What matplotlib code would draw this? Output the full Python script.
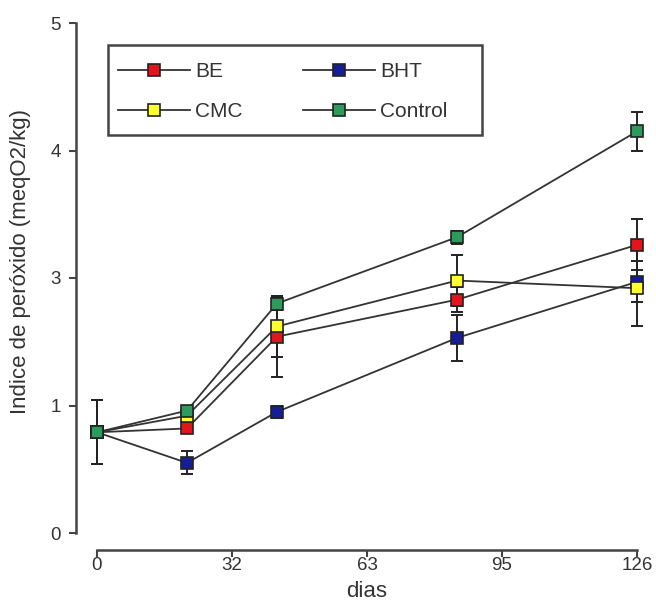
import numpy as np
import matplotlib
matplotlib.use("Agg")
import matplotlib.pyplot as plt
from matplotlib.patches import Rectangle

# ---- data (y in axis tick-position units; tick labels below) ----
days = [0, 21, 42, 84, 126]
be = [0.79, 0.82, 1.54, 1.83, 2.26]
be_err = [0.25, 0.03, 0.32, 0.10, 0.20]
bht = [0.79, 0.55, 0.95, 1.53, 1.97]
bht_err = [0.25, 0.09, 0.05, 0.18, 0.16]
cmc = [0.79, 0.92, 1.62, 1.98, 1.92]
cmc_err = [0.25, 0.03, 0.24, 0.20, 0.30]
control = [0.79, 0.96, 1.80, 2.32, 3.15]
control_err = [0.25, 0.03, 0.05, 0.05, 0.15]

x_tick_labels = ['0', '32', '63', '95', '126']
y_tick_labels = ['0', '1', '3', '4', '5']

plt.rcParams['font.family'] = ['Liberation Sans', 'DejaVu Sans']

W, H = 656, 601
fig = plt.figure(figsize=(W/100, H/100), dpi=100)
ax = fig.add_axes([97/W, 1-533/H, 540/W, 510/H])

series = [
    ('BE', be, be_err, '#e3141c'),
    ('BHT', bht, bht_err, '#161e96'),
    ('CMC', cmc, cmc_err, '#ffff30'),
    ('Control', control, control_err, '#2c9b5c'),
]
order_z = {'BE': 3, 'BHT': 4, 'CMC': 5, 'Control': 6}
handles = {}
for name, vals, err, col in series:
    ax.errorbar(days, vals, yerr=err, fmt='none', ecolor='#222222',
                elinewidth=1.4, capsize=4, capthick=1.4, zorder=2, clip_on=False)
    h, = ax.plot(days, vals, '-', color='#333333', lw=1.3, marker='s',
                 markersize=8.8, markerfacecolor=col, markeredgecolor='#222222',
                 markeredgewidth=1.2, zorder=order_z[name], clip_on=False, label=name)
    handles[name] = h

ax.set_xlim(0, 126)
ax.set_ylim(0, 4)
ax.set_xticks(np.linspace(0, 126, 5))
ax.set_xticklabels(x_tick_labels)
ax.set_yticks(np.arange(5))
ax.set_yticklabels(y_tick_labels)

for s in ['top', 'right']:
    ax.spines[s].set_visible(False)
ax.spines['left'].set_position(('outward', 15))
ax.spines['bottom'].set_position(('outward', 12))
for s in ['left', 'bottom']:
    ax.spines[s].set_linewidth(1.8)
    ax.spines[s].set_color('#444444')
ax.tick_params(axis='both', direction='out', length=5, width=1.5, color='#444444',
               labelsize=13.5, labelcolor='#333333')
ax.tick_params(axis='x', pad=0)
ax.tick_params(axis='y', pad=6)

ax.set_xlabel('dias', fontsize=16, color='#333333', va='top')
ax.xaxis.set_label_coords(0.5, (533-581)/510)
ax.set_ylabel('Indice de peróxido (meqO2/kg)', fontsize=16, color='#333333')
ax.yaxis.set_label_coords((31-97)/540, (533-262)/510)

# legend (rows: BE, BHT / CMC, Control)
leg = ax.legend(handles=[handles['BE'], handles['CMC'], handles['BHT'], handles['Control']],
                labels=['BE', 'CMC', 'BHT', 'Control'],
                ncol=2, loc='upper left', bbox_to_anchor=(118/W, 1-62/H),
                bbox_transform=fig.transFigure, frameon=False, fontsize=15,
                handlelength=3.46, handletextpad=0.24, columnspacing=2.9,
                labelspacing=1.0, borderpad=0, borderaxespad=0)
for t in leg.get_texts():
    t.set_color('#333333')
fig.patches.append(Rectangle((108/W, 1-135/H), 374/W, 90/H, transform=fig.transFigure,
                             fill=False, edgecolor='#444444', linewidth=1.8))

fig.savefig('out.png', dpi=100)
